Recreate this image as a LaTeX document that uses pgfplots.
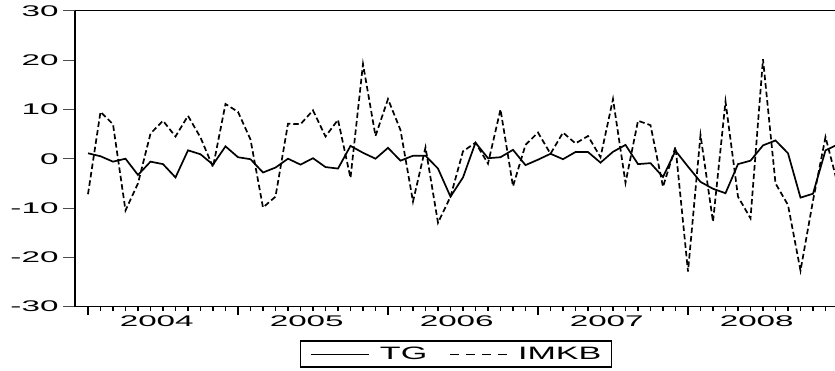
\documentclass[border=0pt]{standalone}
\usepackage{fontspec}
\setmainfont{Liberation Sans}[FakeStretch=2.15]
\newfontfamily\legfont{Liberation Sans}[FakeStretch=1.9]
\usepackage{pgfplots}
\usepackage{pgfplotstable}
\pgfplotsset{compat=1.18}
\pgfplotstableread{
i TG IMKB
0 1.1 -7.2
1 0.5 9.5
2 -0.6 7.0
3 0.0 -10.5
4 -3.3 -5.0
5 -0.6 5.1
6 -1.1 7.7
7 -3.8 4.5
8 1.7 8.7
9 0.9 4.3
10 -1.2 -1.7
11 2.5 11.1
12 0.3 9.5
13 -0.1 3.9
14 -2.8 -9.9
15 -1.8 -7.7
16 0.0 7.1
17 -1.2 7.0
18 0.1 9.8
19 -1.7 4.5
20 -2.0 7.9
21 2.6 -3.9
22 1.2 19.2
23 0.0 4.6
24 2.2 12.1
25 -0.4 5.8
26 0.6 -8.7
27 0.6 2.3
28 -2.0 -13.0
29 -7.7 -7.7
30 -3.8 1.5
31 3.25 3.25
32 0.1 -1.0
33 0.3 10.0
34 1.8 -5.6
35 -1.3 2.8
36 -0.2 5.3
37 1.0 1.0
38 -0.1 5.3
39 1.35 3.1
40 1.35 4.6
41 -0.8 0.3
42 1.4 12.1
43 2.8 -4.9
44 -1.1 7.7
45 -0.9 6.8
46 -3.7 -5.7
47 1.6 2.4
48 -1.6 -22.9
49 -4.7 4.8
50 -6.1 -12.8
51 -7.0 11.6
52 -1.1 -7.7
53 -0.4 -12.1
54 2.7 20.2
55 3.7 -5.0
56 1.1 -9.4
57 -7.9 -22.7
58 -7.1 -8.5
59 1.7 4.4
60 2.9 -5.4
}\data
\begin{document}
\begin{tikzpicture}
\begin{axis}[
  name=ax,
  scale only axis,
  width=760bp, height=295.8bp,
  xmin=-1.04, xmax=59.76,
  ymin=-30, ymax=30,
  separate axis lines,
  axis x line*=box,
  axis y line*=left,
  x axis line style={line width=1bp},
  y axis line style={line width=1.8bp},
  tick align=outside,
  xtick pos=bottom, ytick pos=left,
  major tick length=12bp,
  minor tick length=4.5bp,
  ytick={-30,-20,-10,0,10,20,30},
  yticklabels={-30,-20,-10,0,10,20,30},
  ytick style={line width=1bp, draw=black!70},
  xtick={5.5,17.5,29.5,41.5,53.5},
  xticklabels={2004,2005,2006,2007,2008},
  xtick style={draw=none},
  minor xtick={0,...,60},
  minor x tick style={draw=black, line width=1.2bp},
  extra x ticks={0,12,24,36,48,60},
  extra x tick labels={},
  extra x tick style={major tick length=8bp, xtick style={draw=black, line width=1.2bp}},
  tick label style={font=\fontsize{15.5}{15.5}\selectfont},
  xticklabel style={yshift=6bp},
  yticklabel style={xshift=-1bp},
  /pgf/number format/assume math mode=true,
  clip=true,
  legend columns=2,
  legend style={at={(0.501,-0.160)}, anchor=center, draw=black, line width=1.3bp,
    font=\legfont\fontsize{18}{18}\selectfont,
    inner xsep=10bp, inner ysep=3bp,
    nodes={inner xsep=0bp, inner ysep=3bp},
    /tikz/every odd column/.append style={column sep=11bp},
    /tikz/every even column/.append style={column sep=22bp}},
]
\addplot[black, line width=1.7bp, line join=miter,
  legend image code/.code={\draw[black, line width=0.8bp] (0bp,0bp) -- (58bp,0bp);}]
  table[x=i, y=TG] {\data};
\addlegendentry{TG}
\addplot[black, line width=1.7bp, dash pattern=on 5.5bp off 3bp,
  legend image code/.code={\draw[black, line width=0.8bp, dash pattern=on 9bp off 7bp] (0bp,0bp) -- (57bp,0bp);}]
  table[x=i, y=IMKB] {\data};
\addlegendentry{IMKB}
\end{axis}
\pgfresetboundingbox
\path ([shift={(-75bp,-64.4bp)}]ax.south west) rectangle ([shift={(760bp,306.6bp)}]ax.south west);
\end{tikzpicture}
\end{document}
